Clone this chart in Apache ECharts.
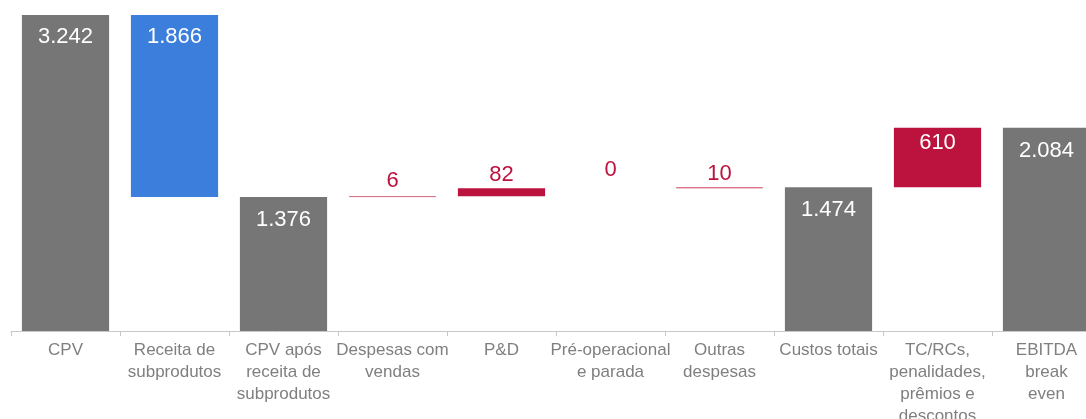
<!DOCTYPE html>
<html>
<head>
<meta charset="utf-8">
<script src="https://cdn.jsdelivr.net/npm/echarts@6/dist/echarts.min.js"></script>
<style>
html,body{margin:0;padding:0;background:#fff;overflow:hidden;}
#chart{width:1086px;height:419px;}
</style>
</head>
<body>
<div id="chart"></div>
<script>
const categories = [
  'CPV',
  'Receita de\nsubprodutos',
  'CPV após\nreceita de\nsubprodutos',
  'Despesas com\nvendas',
  'P&D',
  'Pré-operacional\ne parada',
  'Outras\ndespesas',
  'Custos totais',
  'TC/RCs,\npenalidades,\nprêmios e\ndescontos',
  'EBITDA\nbreak\neven'
];
const values = [3242, 1866, 1376, 6, 82, 0, 10, 1474, 610, 2084];
const kinds = ['total', 'neg', 'total', 'pos', 'pos', 'pos', 'pos', 'total', 'pos', 'total'];

/* styling (not data): label offsets per bar, as in the original slide */
const labelGap = [11, 11, 12, 4, 2, 7, 2, 12, 4, 12];

const COLORS = { total: '#767677', neg: '#3B7EDB', pos: '#BC133E' };
const FONT = '"Liberation Sans", Arial, sans-serif';

function fmt(v) {
  return String(v).replace(/\B(?=(\d{3})+(?!\d))/g, '.');
}

const base = [];
let running = 0;
values.forEach((v, i) => {
  const k = kinds[i];
  if (k === 'total') { base.push(0); running = v; }
  else if (k === 'neg') { running -= v; base.push(running); }
  else { base.push(running); running += v; }
});

const barData = values.map((v, i) => {
  const big = v > 200;
  const thin = v > 0 && v < 20;
  return {
    value: v,
    itemStyle: thin
      ? { color: COLORS[kinds[i]], borderColor: 'rgba(205,80,110,0.75)', borderWidth: 0.8 }
      : { color: COLORS[kinds[i]] },
    label: big ? {
      show: true, position: 'insideTop', distance: labelGap[i], color: '#ffffff',
      fontSize: 22, fontFamily: FONT, formatter: p => fmt(p.value)
    } : {
      show: true, position: 'top', distance: labelGap[i], color: '#BC133E',
      fontSize: 22, fontFamily: FONT, formatter: p => fmt(p.value)
    }
  };
});

const chart = echarts.init(document.getElementById('chart'), null, { renderer: 'canvas' });
chart.setOption({
  animation: false,
  backgroundColor: '#ffffff',
  grid: { left: 11, top: 15, width: 1090, height: 316, containLabel: false, outerBoundsMode: 'none' },
  xAxis: {
    type: 'category',
    data: categories,
    boundaryGap: true,
    axisLine: { show: true, lineStyle: { color: '#c8c8c8', width: 1 } },
    axisTick: { show: true, length: 5, lineStyle: { color: '#c8c8c8' } },
    axisLabel: {
      interval: 0, color: '#7f7f7f', fontSize: 17, lineHeight: 22,
      fontFamily: FONT, margin: 8
    }
  },
  yAxis: {
    type: 'value', min: 0, max: 3242, show: false,
    splitLine: { show: false }
  },
  series: [
    {
      type: 'bar', stack: 'w', data: base, barCategoryGap: '20%',
      itemStyle: { color: 'rgba(0,0,0,0)' }, silent: true
    },
    {
      type: 'bar', stack: 'w', data: barData, barCategoryGap: '20%'
    }
  ]
});
</script>
</body>
</html>
